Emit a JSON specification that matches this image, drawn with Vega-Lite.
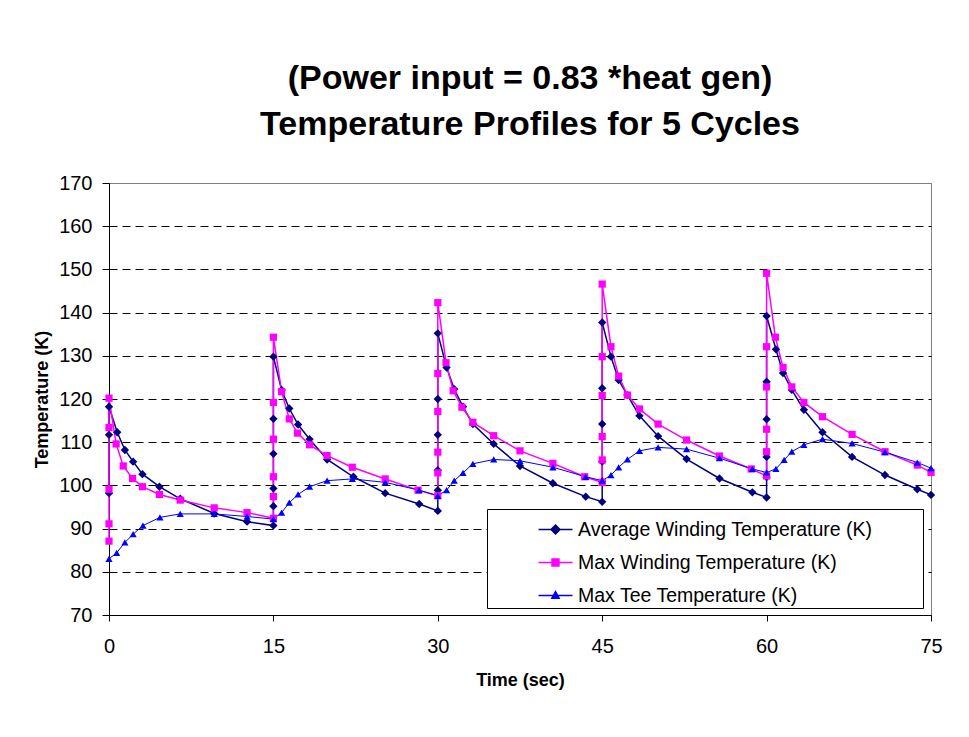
{
  "$schema": "https://vega.github.io/schema/vega-lite/v6.json",
  "autosize": "none",
  "width": 822,
  "height": 432,
  "padding": {"left": 109, "top": 183, "right": 38, "bottom": 122},
  "background": "white",
  "title": {
    "text": ["(Power input = 0.83 *heat gen)", "Temperature Profiles for 5 Cycles"],
    "font": "Liberation Sans",
    "fontSize": 34,
    "fontWeight": "bold",
    "color": "black",
    "lineHeight": 46,
    "offset": 31,
    "anchor": "middle",
    "dx": 10
  },
  "data": {
    "values": [
      {"s": "Average Winding Temperature (K)", "t": 0, "v": 98.2, "i": 1},
      {"s": "Average Winding Temperature (K)", "t": 0, "v": 111.7, "i": 2},
      {"s": "Average Winding Temperature (K)", "t": 0, "v": 118.2, "i": 3},
      {"s": "Average Winding Temperature (K)", "t": 0.75, "v": 112.3, "i": 4},
      {"s": "Average Winding Temperature (K)", "t": 1.45, "v": 108.2, "i": 5},
      {"s": "Average Winding Temperature (K)", "t": 2.2, "v": 105.5, "i": 6},
      {"s": "Average Winding Temperature (K)", "t": 3.05, "v": 102.6, "i": 7},
      {"s": "Average Winding Temperature (K)", "t": 4.6, "v": 99.7, "i": 8},
      {"s": "Average Winding Temperature (K)", "t": 6.5, "v": 96.9, "i": 9},
      {"s": "Average Winding Temperature (K)", "t": 9.6, "v": 93.5, "i": 10},
      {"s": "Average Winding Temperature (K)", "t": 12.6, "v": 91.6, "i": 11},
      {"s": "Average Winding Temperature (K)", "t": 15, "v": 90.7, "i": 12},
      {"s": "Average Winding Temperature (K)", "t": 15, "v": 95.2, "i": 13},
      {"s": "Average Winding Temperature (K)", "t": 15, "v": 99.3, "i": 14},
      {"s": "Average Winding Temperature (K)", "t": 15, "v": 107.3, "i": 15},
      {"s": "Average Winding Temperature (K)", "t": 15, "v": 115.4, "i": 16},
      {"s": "Average Winding Temperature (K)", "t": 15, "v": 129.8, "i": 17},
      {"s": "Average Winding Temperature (K)", "t": 15.75, "v": 122.1, "i": 18},
      {"s": "Average Winding Temperature (K)", "t": 16.45, "v": 117.8, "i": 19},
      {"s": "Average Winding Temperature (K)", "t": 17.25, "v": 114.1, "i": 20},
      {"s": "Average Winding Temperature (K)", "t": 18.3, "v": 110.7, "i": 21},
      {"s": "Average Winding Temperature (K)", "t": 19.9, "v": 106, "i": 22},
      {"s": "Average Winding Temperature (K)", "t": 22.3, "v": 102, "i": 23},
      {"s": "Average Winding Temperature (K)", "t": 25.2, "v": 98.2, "i": 24},
      {"s": "Average Winding Temperature (K)", "t": 28.3, "v": 95.7, "i": 25},
      {"s": "Average Winding Temperature (K)", "t": 30, "v": 94.1, "i": 26},
      {"s": "Average Winding Temperature (K)", "t": 30, "v": 98.9, "i": 27},
      {"s": "Average Winding Temperature (K)", "t": 30, "v": 103.5, "i": 28},
      {"s": "Average Winding Temperature (K)", "t": 30, "v": 111.7, "i": 29},
      {"s": "Average Winding Temperature (K)", "t": 30, "v": 120, "i": 30},
      {"s": "Average Winding Temperature (K)", "t": 30, "v": 135.2, "i": 31},
      {"s": "Average Winding Temperature (K)", "t": 30.8, "v": 127.3, "i": 32},
      {"s": "Average Winding Temperature (K)", "t": 31.5, "v": 122.3, "i": 33},
      {"s": "Average Winding Temperature (K)", "t": 32.3, "v": 118.2, "i": 34},
      {"s": "Average Winding Temperature (K)", "t": 33.2, "v": 114.2, "i": 35},
      {"s": "Average Winding Temperature (K)", "t": 35.1, "v": 109.6, "i": 36},
      {"s": "Average Winding Temperature (K)", "t": 37.5, "v": 104.5, "i": 37},
      {"s": "Average Winding Temperature (K)", "t": 40.5, "v": 100.5, "i": 38},
      {"s": "Average Winding Temperature (K)", "t": 43.5, "v": 97.4, "i": 39},
      {"s": "Average Winding Temperature (K)", "t": 45, "v": 96.2, "i": 40},
      {"s": "Average Winding Temperature (K)", "t": 45, "v": 100.9, "i": 41},
      {"s": "Average Winding Temperature (K)", "t": 45, "v": 105.5, "i": 42},
      {"s": "Average Winding Temperature (K)", "t": 45, "v": 114.2, "i": 43},
      {"s": "Average Winding Temperature (K)", "t": 45, "v": 122.5, "i": 44},
      {"s": "Average Winding Temperature (K)", "t": 45, "v": 137.7, "i": 45},
      {"s": "Average Winding Temperature (K)", "t": 45.8, "v": 129.8, "i": 46},
      {"s": "Average Winding Temperature (K)", "t": 46.5, "v": 124.4, "i": 47},
      {"s": "Average Winding Temperature (K)", "t": 47.3, "v": 120.9, "i": 48},
      {"s": "Average Winding Temperature (K)", "t": 48.4, "v": 116.1, "i": 49},
      {"s": "Average Winding Temperature (K)", "t": 50.1, "v": 111.4, "i": 50},
      {"s": "Average Winding Temperature (K)", "t": 52.7, "v": 106.1, "i": 51},
      {"s": "Average Winding Temperature (K)", "t": 55.7, "v": 101.6, "i": 52},
      {"s": "Average Winding Temperature (K)", "t": 58.7, "v": 98.4, "i": 53},
      {"s": "Average Winding Temperature (K)", "t": 60, "v": 97.2, "i": 54},
      {"s": "Average Winding Temperature (K)", "t": 60, "v": 101.9, "i": 55},
      {"s": "Average Winding Temperature (K)", "t": 60, "v": 106.6, "i": 56},
      {"s": "Average Winding Temperature (K)", "t": 60, "v": 115.3, "i": 57},
      {"s": "Average Winding Temperature (K)", "t": 60, "v": 124, "i": 58},
      {"s": "Average Winding Temperature (K)", "t": 60, "v": 139.2, "i": 59},
      {"s": "Average Winding Temperature (K)", "t": 60.85, "v": 131.5, "i": 60},
      {"s": "Average Winding Temperature (K)", "t": 61.5, "v": 126, "i": 61},
      {"s": "Average Winding Temperature (K)", "t": 62.3, "v": 122.1, "i": 62},
      {"s": "Average Winding Temperature (K)", "t": 63.4, "v": 117.5, "i": 63},
      {"s": "Average Winding Temperature (K)", "t": 65.1, "v": 112.3, "i": 64},
      {"s": "Average Winding Temperature (K)", "t": 67.8, "v": 106.6, "i": 65},
      {"s": "Average Winding Temperature (K)", "t": 70.8, "v": 102.4, "i": 66},
      {"s": "Average Winding Temperature (K)", "t": 73.75, "v": 99.1, "i": 67},
      {"s": "Average Winding Temperature (K)", "t": 75, "v": 97.8, "i": 68},

      {"s": "Max Winding Temperature (K)", "t": 0, "v": 87.1, "i": 1},
      {"s": "Max Winding Temperature (K)", "t": 0, "v": 91.1, "i": 2},
      {"s": "Max Winding Temperature (K)", "t": 0, "v": 99.1, "i": 3},
      {"s": "Max Winding Temperature (K)", "t": 0, "v": 113.4, "i": 4},
      {"s": "Max Winding Temperature (K)", "t": 0, "v": 120.2, "i": 5},
      {"s": "Max Winding Temperature (K)", "t": 0.65, "v": 109.6, "i": 6},
      {"s": "Max Winding Temperature (K)", "t": 1.3, "v": 104.5, "i": 7},
      {"s": "Max Winding Temperature (K)", "t": 2.15, "v": 101.6, "i": 8},
      {"s": "Max Winding Temperature (K)", "t": 3.05, "v": 99.7, "i": 9},
      {"s": "Max Winding Temperature (K)", "t": 4.6, "v": 97.9, "i": 10},
      {"s": "Max Winding Temperature (K)", "t": 6.5, "v": 96.6, "i": 11},
      {"s": "Max Winding Temperature (K)", "t": 9.6, "v": 94.8, "i": 12},
      {"s": "Max Winding Temperature (K)", "t": 12.6, "v": 93.7, "i": 13},
      {"s": "Max Winding Temperature (K)", "t": 15, "v": 92.4, "i": 14},
      {"s": "Max Winding Temperature (K)", "t": 15, "v": 97.4, "i": 15},
      {"s": "Max Winding Temperature (K)", "t": 15, "v": 102, "i": 16},
      {"s": "Max Winding Temperature (K)", "t": 15, "v": 110.7, "i": 17},
      {"s": "Max Winding Temperature (K)", "t": 15, "v": 119.2, "i": 18},
      {"s": "Max Winding Temperature (K)", "t": 15, "v": 134.3, "i": 19},
      {"s": "Max Winding Temperature (K)", "t": 15.75, "v": 121.7, "i": 20},
      {"s": "Max Winding Temperature (K)", "t": 16.45, "v": 115.4, "i": 21},
      {"s": "Max Winding Temperature (K)", "t": 17.2, "v": 112.1, "i": 22},
      {"s": "Max Winding Temperature (K)", "t": 18.3, "v": 109.4, "i": 23},
      {"s": "Max Winding Temperature (K)", "t": 19.9, "v": 106.9, "i": 24},
      {"s": "Max Winding Temperature (K)", "t": 22.2, "v": 104.2, "i": 25},
      {"s": "Max Winding Temperature (K)", "t": 25.2, "v": 101.5, "i": 26},
      {"s": "Max Winding Temperature (K)", "t": 28.2, "v": 98.9, "i": 27},
      {"s": "Max Winding Temperature (K)", "t": 30, "v": 97.6, "i": 28},
      {"s": "Max Winding Temperature (K)", "t": 30, "v": 102.9, "i": 29},
      {"s": "Max Winding Temperature (K)", "t": 30, "v": 107.7, "i": 30},
      {"s": "Max Winding Temperature (K)", "t": 30, "v": 117.1, "i": 31},
      {"s": "Max Winding Temperature (K)", "t": 30, "v": 125.9, "i": 32},
      {"s": "Max Winding Temperature (K)", "t": 30, "v": 142.3, "i": 33},
      {"s": "Max Winding Temperature (K)", "t": 30.75, "v": 128.4, "i": 34},
      {"s": "Max Winding Temperature (K)", "t": 31.4, "v": 121.9, "i": 35},
      {"s": "Max Winding Temperature (K)", "t": 32.2, "v": 118.1, "i": 36},
      {"s": "Max Winding Temperature (K)", "t": 33.2, "v": 114.6, "i": 37},
      {"s": "Max Winding Temperature (K)", "t": 35.1, "v": 111.5, "i": 38},
      {"s": "Max Winding Temperature (K)", "t": 37.5, "v": 108, "i": 39},
      {"s": "Max Winding Temperature (K)", "t": 40.5, "v": 105.1, "i": 40},
      {"s": "Max Winding Temperature (K)", "t": 43.4, "v": 102, "i": 41},
      {"s": "Max Winding Temperature (K)", "t": 45, "v": 100.7, "i": 42},
      {"s": "Max Winding Temperature (K)", "t": 45, "v": 105.9, "i": 43},
      {"s": "Max Winding Temperature (K)", "t": 45, "v": 111.3, "i": 44},
      {"s": "Max Winding Temperature (K)", "t": 45, "v": 120.8, "i": 45},
      {"s": "Max Winding Temperature (K)", "t": 45, "v": 129.8, "i": 46},
      {"s": "Max Winding Temperature (K)", "t": 45, "v": 146.6, "i": 47},
      {"s": "Max Winding Temperature (K)", "t": 45.8, "v": 132.1, "i": 48},
      {"s": "Max Winding Temperature (K)", "t": 46.5, "v": 125.3, "i": 49},
      {"s": "Max Winding Temperature (K)", "t": 47.3, "v": 120.9, "i": 50},
      {"s": "Max Winding Temperature (K)", "t": 48.4, "v": 117.7, "i": 51},
      {"s": "Max Winding Temperature (K)", "t": 50.1, "v": 114.2, "i": 52},
      {"s": "Max Winding Temperature (K)", "t": 52.7, "v": 110.5, "i": 53},
      {"s": "Max Winding Temperature (K)", "t": 55.7, "v": 106.8, "i": 54},
      {"s": "Max Winding Temperature (K)", "t": 58.6, "v": 103.8, "i": 55},
      {"s": "Max Winding Temperature (K)", "t": 60, "v": 102.2, "i": 56},
      {"s": "Max Winding Temperature (K)", "t": 60, "v": 107.8, "i": 57},
      {"s": "Max Winding Temperature (K)", "t": 60, "v": 113, "i": 58},
      {"s": "Max Winding Temperature (K)", "t": 60, "v": 122.8, "i": 59},
      {"s": "Max Winding Temperature (K)", "t": 60, "v": 132.1, "i": 60},
      {"s": "Max Winding Temperature (K)", "t": 60, "v": 149.1, "i": 61},
      {"s": "Max Winding Temperature (K)", "t": 60.8, "v": 134.3, "i": 62},
      {"s": "Max Winding Temperature (K)", "t": 61.5, "v": 127.3, "i": 63},
      {"s": "Max Winding Temperature (K)", "t": 62.3, "v": 122.8, "i": 64},
      {"s": "Max Winding Temperature (K)", "t": 63.4, "v": 119.2, "i": 65},
      {"s": "Max Winding Temperature (K)", "t": 65.1, "v": 115.9, "i": 66},
      {"s": "Max Winding Temperature (K)", "t": 67.8, "v": 111.8, "i": 67},
      {"s": "Max Winding Temperature (K)", "t": 70.8, "v": 107.8, "i": 68},
      {"s": "Max Winding Temperature (K)", "t": 73.75, "v": 104.7, "i": 69},
      {"s": "Max Winding Temperature (K)", "t": 75, "v": 103, "i": 70},

      {"s": "Max Tee Temperature (K)", "t": 0, "v": 83, "i": 1},
      {"s": "Max Tee Temperature (K)", "t": 0.7, "v": 84.4, "i": 2},
      {"s": "Max Tee Temperature (K)", "t": 1.45, "v": 86.8, "i": 3},
      {"s": "Max Tee Temperature (K)", "t": 2.2, "v": 88.7, "i": 4},
      {"s": "Max Tee Temperature (K)", "t": 3.1, "v": 90.7, "i": 5},
      {"s": "Max Tee Temperature (K)", "t": 4.65, "v": 92.6, "i": 6},
      {"s": "Max Tee Temperature (K)", "t": 6.5, "v": 93.4, "i": 7},
      {"s": "Max Tee Temperature (K)", "t": 9.6, "v": 93.4, "i": 8},
      {"s": "Max Tee Temperature (K)", "t": 12.6, "v": 92.8, "i": 9},
      {"s": "Max Tee Temperature (K)", "t": 15, "v": 92.2, "i": 10},
      {"s": "Max Tee Temperature (K)", "t": 15.75, "v": 93.7, "i": 11},
      {"s": "Max Tee Temperature (K)", "t": 16.45, "v": 96, "i": 12},
      {"s": "Max Tee Temperature (K)", "t": 17.25, "v": 97.9, "i": 13},
      {"s": "Max Tee Temperature (K)", "t": 18.3, "v": 99.7, "i": 14},
      {"s": "Max Tee Temperature (K)", "t": 19.9, "v": 101.1, "i": 15},
      {"s": "Max Tee Temperature (K)", "t": 22.2, "v": 101.5, "i": 16},
      {"s": "Max Tee Temperature (K)", "t": 25.2, "v": 100.7, "i": 17},
      {"s": "Max Tee Temperature (K)", "t": 28.3, "v": 98.9, "i": 18},
      {"s": "Max Tee Temperature (K)", "t": 30, "v": 97.6, "i": 19},
      {"s": "Max Tee Temperature (K)", "t": 30.8, "v": 98.9, "i": 20},
      {"s": "Max Tee Temperature (K)", "t": 31.5, "v": 101.1, "i": 21},
      {"s": "Max Tee Temperature (K)", "t": 32.3, "v": 102.9, "i": 22},
      {"s": "Max Tee Temperature (K)", "t": 33.2, "v": 105, "i": 23},
      {"s": "Max Tee Temperature (K)", "t": 35.1, "v": 106, "i": 24},
      {"s": "Max Tee Temperature (K)", "t": 37.5, "v": 105.7, "i": 25},
      {"s": "Max Tee Temperature (K)", "t": 40.5, "v": 104.2, "i": 26},
      {"s": "Max Tee Temperature (K)", "t": 43.5, "v": 102, "i": 27},
      {"s": "Max Tee Temperature (K)", "t": 45, "v": 101.1, "i": 28},
      {"s": "Max Tee Temperature (K)", "t": 45.8, "v": 102.4, "i": 29},
      {"s": "Max Tee Temperature (K)", "t": 46.5, "v": 104.2, "i": 30},
      {"s": "Max Tee Temperature (K)", "t": 47.3, "v": 106, "i": 31},
      {"s": "Max Tee Temperature (K)", "t": 48.4, "v": 108, "i": 32},
      {"s": "Max Tee Temperature (K)", "t": 50.1, "v": 108.8, "i": 33},
      {"s": "Max Tee Temperature (K)", "t": 52.7, "v": 108.4, "i": 34},
      {"s": "Max Tee Temperature (K)", "t": 55.7, "v": 106.3, "i": 35},
      {"s": "Max Tee Temperature (K)", "t": 58.7, "v": 103.8, "i": 36},
      {"s": "Max Tee Temperature (K)", "t": 60, "v": 103, "i": 37},
      {"s": "Max Tee Temperature (K)", "t": 60.85, "v": 103.8, "i": 38},
      {"s": "Max Tee Temperature (K)", "t": 61.6, "v": 105.9, "i": 39},
      {"s": "Max Tee Temperature (K)", "t": 62.3, "v": 107.8, "i": 40},
      {"s": "Max Tee Temperature (K)", "t": 63.4, "v": 109.4, "i": 41},
      {"s": "Max Tee Temperature (K)", "t": 65.1, "v": 110.7, "i": 42},
      {"s": "Max Tee Temperature (K)", "t": 67.8, "v": 109.7, "i": 43},
      {"s": "Max Tee Temperature (K)", "t": 70.8, "v": 107.7, "i": 44},
      {"s": "Max Tee Temperature (K)", "t": 73.75, "v": 105.3, "i": 45},
      {"s": "Max Tee Temperature (K)", "t": 75, "v": 104, "i": 46}
    ]
  },
  "encoding": {
    "x": {
      "field": "t",
      "type": "quantitative",
      "scale": {"domain": [0, 75], "nice": false, "zero": false},
      "axis": {
        "values": [0, 15, 30, 45, 60, 75],
        "title": "Time (sec)",
        "titleFont": "Liberation Sans",
        "titleFontSize": 18,
        "titleFontWeight": "bold",
        "titleColor": "black",
        "titlePadding": 15,
        "labelFont": "Liberation Sans",
        "labelFontSize": 20,
        "labelColor": "black",
        "labelPadding": 15,
        "labelFlush": false,
        "tickSize": 6,
        "tickColor": "black",
        "domainColor": "black",
        "domainWidth": 1,
        "grid": false
      }
    },
    "y": {
      "field": "v",
      "type": "quantitative",
      "scale": {"domain": [70, 170], "nice": false, "zero": false},
      "axis": {
        "values": [70, 80, 90, 100, 110, 120, 130, 140, 150, 160, 170],
        "title": "Temperature (K)",
        "titleFont": "Liberation Sans",
        "titleFontSize": 18,
        "titleFontWeight": "bold",
        "titleColor": "black",
        "titlePadding": 7,
        "labelFont": "Liberation Sans",
        "labelFontSize": 20,
        "labelColor": "black",
        "labelPadding": 10,
        "labelFlush": false,
        "tickSize": 7,
        "tickColor": "black",
        "domainColor": "black",
        "domainWidth": 1,
        "grid": true,
        "gridWidth": 1,
        "gridColor": {"condition": {"test": "datum.value === 170", "value": "#808080"}, "value": "black"},
        "gridDash": {"condition": {"test": "datum.value === 170 || datum.value === 70", "value": []}, "value": [8, 5]}
      }
    },
    "color": {
      "field": "s",
      "type": "nominal",
      "scale": {
        "domain": ["Average Winding Temperature (K)", "Max Winding Temperature (K)", "Max Tee Temperature (K)"],
        "range": ["#000080", "#FF00FF", "#0000FF"]
      },
      "legend": {
        "orient": "none",
        "legendX": 378,
        "legendY": 326,
        "title": null,
        "padding": 3,
        "strokeColor": "black",
        "fillColor": "white",
        "labelFont": "Liberation Sans",
        "labelFontSize": 19.5,
        "labelColor": "black",
        "labelLimit": 500,
        "labelOffset": 5,
        "rowPadding": 6,
        "symbolSize": 1089,
        "symbolOffset": 48,
        "symbolStrokeWidth": 1.5,
        "encode": {
          "symbols": {
            "update": {
              "shape": {"signal": "datum.value === 'Average Winding Temperature (K)' ? 'M-1.03,0L1.03,0M0,-0.27L0.27,0L0,0.27L-0.27,0ZM21.9,0' : datum.value === 'Max Winding Temperature (K)' ? 'M-1.03,0L1.03,0M-0.21,-0.21L0.21,-0.21L0.21,0.21L-0.21,0.21ZM21.9,0' : 'M-1.03,0L1.03,0M0,-0.24L0.22,0.16L-0.22,0.16ZM21.9,0'"},
              "size": {"value": 1089},
              "fill": {"scale": "color", "field": "value"},
              "stroke": {"scale": "color", "field": "value"},
              "strokeWidth": {"value": 1.5},
              "opacity": {"value": 1}
            }
          }
        }
      }
    }
  },
  "layer": [
    {
      "mark": {"type": "line"},
      "encoding": {
        "order": {"field": "i", "type": "quantitative"},
        "strokeWidth": {
          "condition": {"test": "datum.s === 'Max Tee Temperature (K)'", "value": 1},
          "value": 1.5
        }
      }
    },
    {
      "mark": {"type": "point", "filled": true, "opacity": 1},
      "encoding": {
        "shape": {
          "condition": [
            {"test": "datum.s === 'Max Winding Temperature (K)'", "value": "square"},
            {"test": "datum.s === 'Max Tee Temperature (K)'", "value": "triangle-up"}
          ],
          "value": "diamond"
        },
        "size": {
          "condition": {"test": "datum.s === 'Average Winding Temperature (K)'", "value": 70},
          "value": 52
        }
      }
    }
  ],
  "config": {
    "view": {"stroke": "#808080", "strokeWidth": 1}
  }
}
